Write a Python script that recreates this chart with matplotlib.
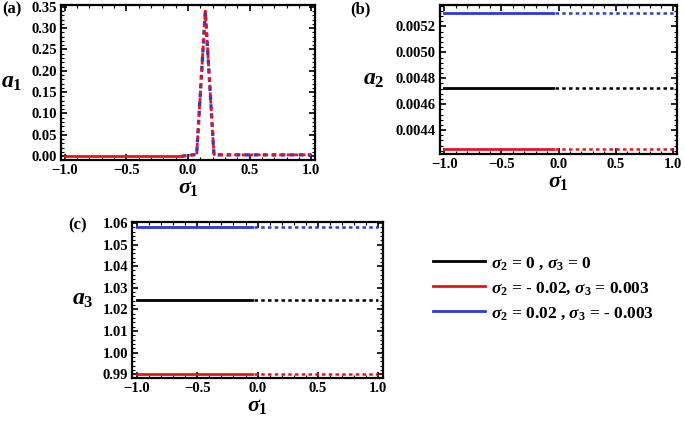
import matplotlib
matplotlib.use("Agg")
import matplotlib.pyplot as plt
from matplotlib.ticker import MultipleLocator, AutoMinorLocator

plt.rcParams['font.family'] = ['Liberation Serif', 'DejaVu Serif']
plt.rcParams['font.weight'] = 'bold'
plt.rcParams['mathtext.fontset'] = 'custom'
plt.rcParams['mathtext.rm'] = 'Liberation Serif:bold'
plt.rcParams['mathtext.it'] = 'Liberation Serif:bold:italic'
plt.rcParams['mathtext.bf'] = 'Liberation Serif:bold'

# sigma_1 ranges: solid (stable) part and dotted part
solid_x = [-1.0, -0.05]
dotted_x = [-0.03, 1.0]

# panel (a): a1 peak on the dotted branch
a1_solid = [0.0, 0.0]
a1_dot_x = [-0.05, 0.07, 0.14, 0.21, 0.25, 1.0]
a1_dot_y = [0.0, 0.004, 0.34, 0.004, 0.003, 0.003]

# panel (b) and (c) constant levels: black, red, blue
a2_levels = [0.004722, 0.004255, 0.005305]
a3_levels = [1.0244, 0.9903, 1.0583]

colors = ["black", "#e8141c", "#2a3bd6"]
legend_labels = [r"$\sigma_2$ = 0 , $\sigma_3$ = 0",
                 r"$\sigma_2$ = - 0.02, $\sigma_3$ = 0.003",
                 r"$\sigma_2$ = 0.02 , $\sigma_3$ = - 0.003"]

DOT = (0, (1.4, 1.3))


def style_axes(ax, ymajor, ylabel, pad=14):
    for s in ax.spines.values():
        s.set_linewidth(1.6)
    ax.xaxis.set_major_locator(MultipleLocator(0.5))
    ax.xaxis.set_minor_locator(MultipleLocator(0.1))
    ax.yaxis.set_major_locator(MultipleLocator(ymajor))
    ax.yaxis.set_minor_locator(AutoMinorLocator(5))
    ax.tick_params(which='both', direction='in', top=True, right=True,
                   labelsize=10.5, pad=3)
    ax.tick_params(which='major', length=4, width=1.2)
    ax.tick_params(which='minor', length=2, width=0.8)
    for lab in ax.get_xticklabels() + ax.get_yticklabels():
        lab.set_fontweight('bold')
    ax.set_xlabel(r"$\sigma_1$", fontsize=16, labelpad=1)
    ax.set_ylabel(ylabel, fontsize=17, rotation=0, labelpad=pad, va='center')


fig = plt.figure(figsize=(6.85, 4.21), dpi=100)

# (a)
ax1 = fig.add_axes([0.089, 0.620, 0.371, 0.368])
ax1.plot(a1_dot_x, a1_dot_y, color=colors[2], lw=2.4, ls=DOT)
ax1.plot(a1_dot_x, a1_dot_y, color=colors[1], lw=2.0, ls=DOT)
ax1.plot(solid_x, a1_solid, color=colors[1], lw=2.0)
ax1.set_xlim(-1.03, 1.03)
ax1.set_ylim(-0.009, 0.354)
style_axes(ax1, 0.05, r"$a_1$")
ax1.yaxis.set_major_formatter(plt.FormatStrFormatter('%.2f'))
fig.text(0.003, 0.968, "(a)", fontsize=12, fontweight='bold')

# (b)
ax2 = fig.add_axes([0.642, 0.634, 0.346, 0.354])
for lvl, c in zip(a2_levels, colors):
    ax2.plot(solid_x, [lvl, lvl], color=c, lw=2.0)
    ax2.plot(dotted_x, [lvl, lvl], color=c, lw=1.8, ls=DOT)
ax2.set_xlim(-1.04, 1.035)
ax2.set_ylim(0.004215, 0.005365)
style_axes(ax2, 0.0002, r"$a_2$", pad=16)
ax2.yaxis.set_major_formatter(plt.FormatStrFormatter('%.4f'))
fig.text(0.512, 0.968, "(b)", fontsize=12, fontweight='bold')

# (c)
ax3 = fig.add_axes([0.193, 0.102, 0.366, 0.371])
for lvl, c in zip(a3_levels, colors):
    ax3.plot(solid_x, [lvl, lvl], color=c, lw=2.0)
    ax3.plot(dotted_x, [lvl, lvl], color=c, lw=1.8, ls=DOT)
ax3.set_xlim(-1.04, 1.04)
ax3.set_ylim(0.9882, 1.0605)
style_axes(ax3, 0.01, r"$a_3$")
ax3.yaxis.set_major_formatter(plt.FormatStrFormatter('%.2f'))
fig.text(0.100, 0.455, "(c)", fontsize=12, fontweight='bold')

# legend
handles = [plt.Line2D([], [], color=c, lw=2.0) for c in colors]
fig.legend(handles, legend_labels, loc='upper left',
           bbox_to_anchor=(0.609, 0.432), frameon=False, fontsize=12.5,
           handlelength=3.0, handletextpad=0.35, labelspacing=0.48)

fig.savefig("out.png", dpi=100)
